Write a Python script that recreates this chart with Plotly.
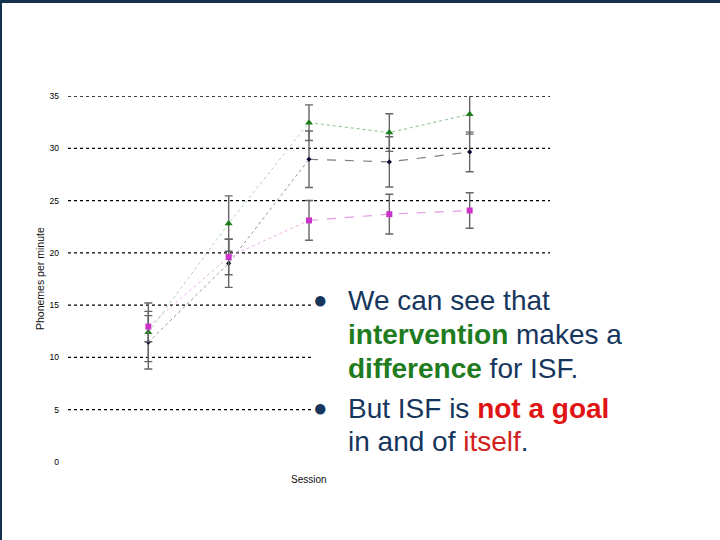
import plotly.graph_objects as go

# session numbers (x) and y axis ticks
sessions = [1, 2, 3, 4, 5]
y_ticks = [0, 5, 10, 15, 20, 25, 30, 35]

# three groups, mean phonemes per minute and error half-widths
green_vals = [12.4, 22.8, 32.45, 31.5, 33.25]
green_err = [2.8, 2.65, 1.7, 1.8, 1.9]
black_vals = [11.45, 19.0, 28.95, 28.7, 29.65]
black_err = [2.55, 2.3, 2.7, 2.4, 1.9]
magenta_vals = [12.95, 19.6, 23.1, 23.7, 24.05]
magenta_err = [1.45, 1.7, 1.9, 1.9, 1.7]

W, H = 720, 540
L, R, T, B = 68, 550, 96, 462   # plot area in pixels


def px(x):
    return (x - L) / (R - L)


def py(y):
    return (B - y) / (B - T)


series = [
    (green_vals, green_err, "#1b7d1b", "#9cc89c", "triangle-up", 7, "dot"),
    (black_vals, black_err, "#0a0a30", "#7a7a85", "diamond", 4, "dash"),
    (magenta_vals, magenta_err, "#cc33cc", "#e39be3", "square", 6, "dash"),
]

fig = go.Figure()

# connecting lines: faint dotted for sessions 1-3, dashed afterwards
for vals, err, mcol, lcol, sym, size, dash in series:
    fig.add_trace(go.Scatter(x=sessions[:3], y=vals[:3], mode="lines",
                             line=dict(color=lcol, width=0.8, dash="dot"),
                             hoverinfo="skip"))
    fig.add_trace(go.Scatter(x=sessions[2:], y=vals[2:], mode="lines",
                             line=dict(color=lcol, width=1.2, dash=dash),
                             hoverinfo="skip"))

for vals, err, mcol, lcol, sym, size, dash in series:
    fig.add_trace(go.Scatter(
        x=sessions, y=vals, mode="markers",
        marker=dict(symbol=sym, size=size, color=mcol),
        error_y=dict(type="data", array=err, visible=True,
                     color="#666666", thickness=1.4, width=4),
    ))

# dash-dot grid lines (none at zero)
for v in y_ticks[1:]:
    fig.add_shape(type="line", xref="paper", yref="y", x0=0, x1=1, y0=v, y1=v,
                  line=dict(color="black", width=1.3, dash="dot"), layer="below")

# white box behind the bullet text hides the grid lines there
fig.add_shape(type="rect", xref="paper", yref="paper", x0=px(314), x1=px(680),
              y0=py(282), y1=py(462), fillcolor="white", line=dict(width=0),
              layer="above")

# slide frame: top and left edges
fig.add_shape(type="line", xref="paper", yref="paper", x0=px(0), x1=px(W),
              y0=py(1.5), y1=py(1.5), line=dict(color="#16314d", width=3))
fig.add_shape(type="line", xref="paper", yref="paper", x0=px(1), x1=px(1),
              y0=py(0), y1=py(H), line=dict(color="#16314d", width=2))

navy = "#17365d"
green = "#1e7b1e"
red = "#e01414"
font = "Liberation Sans, Arial, sans-serif"

bullet_lines = [
    (300, "We can see that"),
    (334, f"<b><span style='color:{green}'>intervention</span></b> makes a"),
    (368, f"<b><span style='color:{green}'>difference</span></b> for ISF."),
    (408, f"But ISF is <b><span style='color:{red}'>not a goal</span></b>"),
    (441, "in and of <span style='color:#d02020'>itself</span>."),
]

ann = [
    dict(x=px(40), y=py(279), text="Phonemes per minute", textangle=-90,
         font=dict(size=10.5, color="#111111")),
    dict(x=px(309), y=py(479), text="Session", font=dict(size=10, color="#111111")),
    dict(x=px(320), y=py(299), text="●", font=dict(size=24, color=navy)),
    dict(x=px(320), y=py(407), text="●", font=dict(size=24, color=navy)),
]
for yy, t in bullet_lines:
    ann.append(dict(x=px(346), y=py(yy), xanchor="left", align="left", text=t,
                    font=dict(size=28, color=navy)))

for a in ann:
    a.setdefault("xanchor", "center")
    fig.add_annotation(xref="paper", yref="paper", showarrow=False,
                       yanchor="middle", **a)

fig.update_layout(
    width=W, height=H,
    margin=dict(l=L, r=W - R, t=T, b=H - B),
    paper_bgcolor="white", plot_bgcolor="white",
    showlegend=False,
    font=dict(family=font),
    xaxis=dict(range=[0, 6], showgrid=False, zeroline=False, showticklabels=False,
               showline=False),
    yaxis=dict(range=[0, 35], tickvals=y_ticks, showgrid=False, zeroline=False,
               showline=False, ticklabelstandoff=8,
               tickfont=dict(size=8.5, color="#000000")),
)

fig.write_html("out.html", config={"displayModeBar": False},
               post_script="document.body.style.margin='0';")
